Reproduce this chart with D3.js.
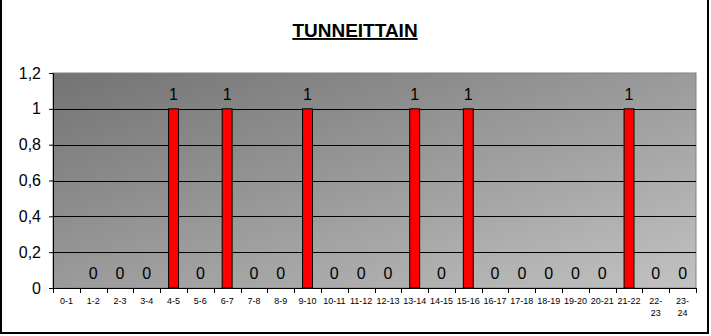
<!DOCTYPE html>
<html>
<head>
<meta charset="utf-8">
<script src="https://cdn.jsdelivr.net/npm/d3@7"></script>
<style>
  body { margin: 0; background: #fff; }
  svg { display: block; font-family: Arial, "Liberation Sans", sans-serif; }
</style>
</head>
<body>
<div id="chart"></div>
<script>
// hours of the day
const hours = ["0-1","1-2","2-3","3-4","4-5","5-6","6-7","7-8","8-9","9-10","10-11","11-12",
  "12-13","13-14","14-15","15-16","16-17","17-18","18-19","19-20","20-21","21-22","22-23","23-24"];
// first hour has no value (no label shown)
const counts = [null,0,0,0,1,0,1,0,0,1,0,0,0,1,0,1,0,0,0,0,0,1,0,0];
const yTicks = [0, 0.2, 0.4, 0.6, 0.8, 1, 1.2];
const wrapped = ["22-23", "23-24"];

const width = 711, height = 336;
const margin = {top: 73, right: 15, bottom: 48, left: 53};

const svg = d3.select('#chart').append('svg')
    .attr('width', width)
    .attr('height', height);

// outer frame
svg.append('rect')
    .attr('x', 1).attr('y', -2)
    .attr('width', 707).attr('height', 335)
    .attr('fill', '#fff')
    .attr('stroke', '#000')
    .attr('stroke-width', 2);

// title
svg.append('text')
    .attr('x', 355).attr('y', 37)
    .attr('text-anchor', 'middle')
    .style('font-size', '19px')
    .style('font-weight', 'bold')
    .style('text-decoration', 'underline')
    .text('TUNNEITTAIN');

const x = d3.scaleBand()
    .domain(hours)
    .range([margin.left, width - margin.right])
    .paddingInner(0.63)
    .paddingOuter(0.315);

const xCat = d3.scaleBand()
    .domain(hours)
    .range([margin.left, width - margin.right]);

const y = d3.scaleLinear()
    .domain([0, 1.2])
    .range([height - margin.bottom, margin.top]);

// plot area gradient
const defs = svg.append('defs');
const grad = defs.append('linearGradient')
    .attr('id', 'bg')
    .attr('x1', '0%').attr('y1', '0%')
    .attr('x2', '100%').attr('y2', '100%');
grad.append('stop').attr('offset', '0%').attr('stop-color', '#737373');
grad.append('stop').attr('offset', '100%').attr('stop-color', '#c2c2c2');

svg.append('rect')
    .attr('x', margin.left).attr('y', margin.top)
    .attr('width', width - margin.right - margin.left)
    .attr('height', y(0) - margin.top)
    .attr('fill', 'url(#bg)')
    .attr('stroke', '#808080')
    .attr('stroke-width', 1);

// gridlines
svg.append('g')
    .selectAll('line')
    .data(yTicks.filter(d => d > 0 && d < 1.2))
    .join('line')
    .attr('x1', margin.left).attr('x2', width - margin.right)
    .attr('y1', d => Math.round(y(d)) + 0.5).attr('y2', d => Math.round(y(d)) + 0.5)
    .attr('stroke', '#000');

// y axis
const yAxis = svg.append('g')
    .attr('transform', `translate(${margin.left},0)`)
    .call(d3.axisLeft(y).tickValues(yTicks).tickSize(4).tickPadding(8)
      .tickFormat(d => d3.format('.1f')(d).replace('.', ',').replace(',0', '')));
yAxis.select('.domain').attr('stroke', '#000');
yAxis.selectAll('text').style('font-size', '16px').attr('fill', '#000');

// bars
svg.append('g')
    .selectAll('rect')
    .data(counts)
    .join('rect')
    .attr('x', (d, i) => x(hours[i]))
    .attr('y', d => y(d || 0))
    .attr('width', x.bandwidth())
    .attr('height', d => y(0) - y(d || 0))
    .attr('fill', '#ff0000')
    .attr('stroke', '#000')
    .attr('stroke-width', 1);

// data labels
svg.append('g')
    .selectAll('text')
    .data(counts.map((d, i) => ({h: hours[i], v: d})).filter(d => d.v !== null))
    .join('text')
    .attr('x', d => xCat(d.h) + xCat.bandwidth() / 2)
    .attr('y', d => y(d.v) - 9)
    .attr('text-anchor', 'middle')
    .style('font-size', '16px')
    .text(d => d.v);

// x axis
const xAxisG = svg.append('g')
    .attr('transform', `translate(0,${y(0)})`);
xAxisG.append('line')
    .attr('x1', margin.left).attr('x2', width - margin.right)
    .attr('y1', 0.5).attr('y2', 0.5)
    .attr('stroke', '#000');
xAxisG.selectAll('.tick')
    .data(d3.range(hours.length + 1))
    .join('line')
    .attr('x1', i => Math.round(margin.left + i * xCat.step()) + 0.5)
    .attr('x2', i => Math.round(margin.left + i * xCat.step()) + 0.5)
    .attr('y1', 0).attr('y2', 5)
    .attr('stroke', '#000');

const labels = xAxisG.selectAll('text')
    .data(hours)
    .join('text')
    .attr('x', d => xCat(d) + xCat.bandwidth() / 2)
    .attr('y', 16)
    .attr('text-anchor', 'middle')
    .style('font-size', '9px');
labels.each(function(d) {
  const t = d3.select(this);
  if (wrapped.includes(d)) {
    const parts = d.split('-');
    t.append('tspan').attr('x', t.attr('x')).text(parts[0] + '-');
    t.append('tspan').attr('x', t.attr('x')).attr('dy', 12).text(parts[1]);
  } else {
    t.text(d);
  }
});
</script>
</body>
</html>
